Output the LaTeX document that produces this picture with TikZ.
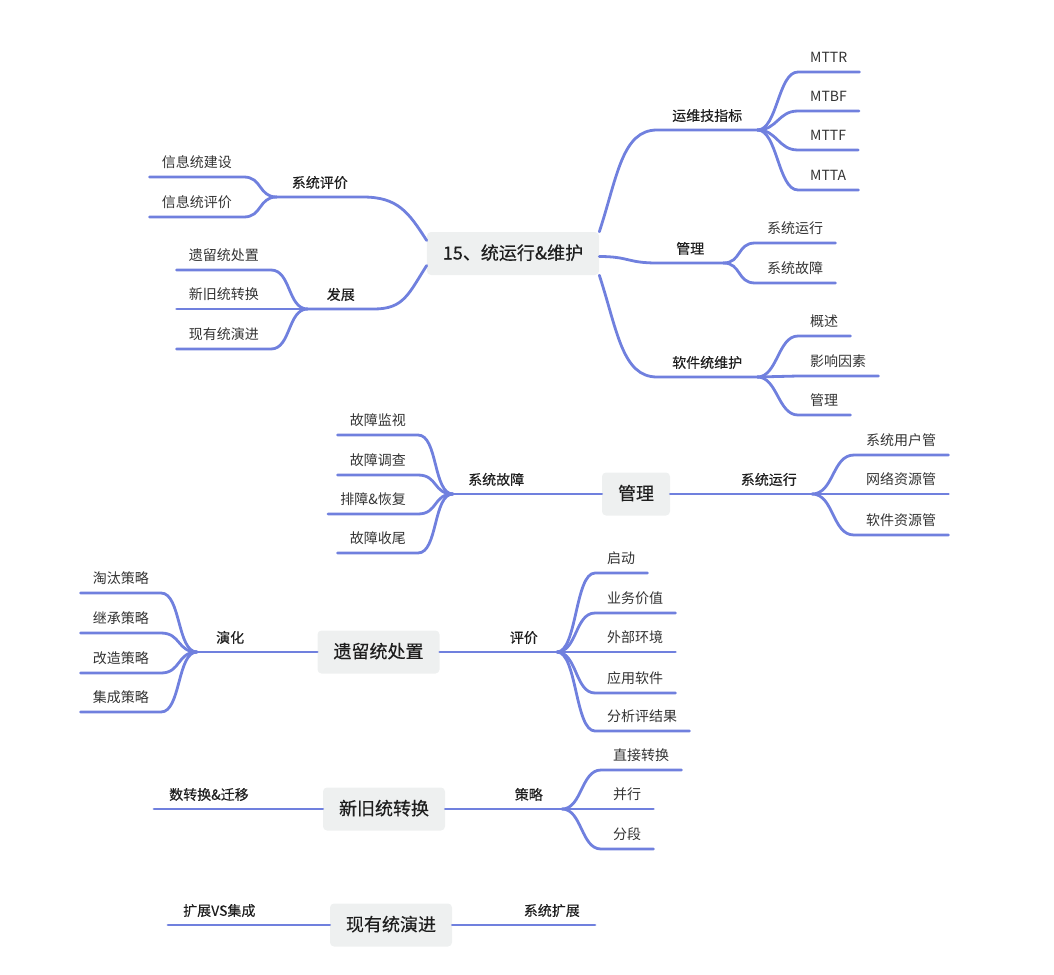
\documentclass[tikz,border=0pt]{standalone}
\usepackage{fontspec}
\setmainfont{Noto Sans CJK SC}
\newfontfamily\cjkmid[FakeBold=0.3]{Noto Sans CJK SC}
\usetikzlibrary{calc}
\usepackage{xcolor}
\definecolor{linkblue}{RGB}{112,128,222}
\definecolor{boxgrey}{RGB}{238,240,240}
\definecolor{inkdark}{RGB}{30,30,30}
\definecolor{inkgrey}{RGB}{51,51,51}

\tikzset{
  topic/.style={fill=boxgrey, rounded corners=4pt, inner xsep=16pt, inner ysep=0pt,
    minimum height=43pt, text height=13.5pt, text depth=1.5pt, text=inkdark,
    font=\cjkmid\fontsize{18}{20}\selectfont},
  branch/.style={inner xsep=15pt, inner ysep=8pt, minimum width=66pt,
    text height=11pt, text depth=1pt, text=inkdark,
    font=\cjkmid\fontsize{14}{16}\selectfont},
  leaf/.style={inner xsep=12pt, inner ysep=8pt, text height=11pt, text depth=1pt,
    text=inkgrey, font=\fontsize{14}{16}\selectfont},
  link/.style={draw=linkblue, line width=2.8pt, line cap=round},
}

\begin{document}
\begin{tikzpicture}[x=1pt, y=-1pt]
    \useasboundingbox (0,0) rectangle (1054,974);

    % Map 1: core topic and its branches
    \node[topic] (core) at (513,253.5) {15、统运行\&维护};
    \node[branch, anchor=south west] (ywzb) at (657,130) {运维技指标};
    \node[branch, anchor=south west] (glA) at (657,263) {管理};
    \node[branch, anchor=south west] (rjwh) at (657,377) {软件统维护};
    \node[branch, anchor=south east] (xtpj) at (363,197) {系统评价};
    \node[branch, anchor=south east] (fz) at (374,309) {发展};

    \draw[link] (core.north east) .. controls +(18,-55) and +(-35,0) .. (ywzb.south west) -- (ywzb.south east);
    \draw[link] ($(core.east)+(0,3)$) .. controls +(30,0) and +(-30,0) .. (glA.south west) -- (glA.south east);
    \draw[link] (core.south east) .. controls +(18,55) and +(-35,0) .. (rjwh.south west) -- (rjwh.south east);
    \draw[link] (xtpj.south west) -- (xtpj.south east) .. controls +(35,0) and +(-18,-28) .. ($(core.west)+(0,-13)$);
    \draw[link] (fz.south west) -- (fz.south east) .. controls +(30,0) and +(-18,28) .. ($(core.west)+(0,12)$);

    % leaves of map 1
    \foreach \i/\y/\t in {1/72/MTTR, 2/111/MTBF, 3/150/MTTF, 4/190/MTTA} {
        \node[leaf, anchor=south west] (yw\i) at (798,\y) {\t};
        \draw[link] (ywzb.south east) .. controls +(20,0) and +(-20,0) .. (yw\i.south west) -- (yw\i.south east);
    }
    \foreach \i/\y/\t in {1/243/系统运行, 2/283/系统故障} {
        \node[leaf, anchor=south west] (gla\i) at (755,\y) {\t};
        \draw[link] (glA.south east) .. controls +(18,0) and +(-18,0) .. (gla\i.south west) -- (gla\i.south east);
    }
    \foreach \i/\y/\t in {1/336/概述, 2/376/影响因素, 3/415/管理} {
        \node[leaf, anchor=south west] (rj\i) at (798,\y) {\t};
        \draw[link] (rjwh.south east) .. controls +(20,0) and +(-20,0) .. (rj\i.south west) -- (rj\i.south east);
    }
    \foreach \i/\y/\t in {1/177/信息统建设, 2/217/信息统评价} {
        \node[leaf, anchor=south east] (pj\i) at (244,\y) {\t};
        \draw[link] (xtpj.south west) .. controls +(-18,0) and +(18,0) .. (pj\i.south east) -- (pj\i.south west);
    }
    \foreach \i/\y/\t in {1/270/遗留统处置, 2/309/新旧统转换, 3/349/现有统演进} {
        \node[leaf, anchor=south east] (fz\i) at (271,\y) {\t};
        \draw[link] (fz.south west) .. controls +(-20,0) and +(20,0) .. (fz\i.south east) -- (fz\i.south west);
    }

    % Map 2: 管理
    \node[topic] (glB) at (636,494) {管理};
    \node[branch, anchor=south west] (xtgz) at (453,494) {系统故障};
    \node[branch, anchor=south east] (xtyx) at (812,494) {系统运行};
    \draw[link] (glB.west) -- (xtgz.south east) -- (xtgz.south west);
    \draw[link] (glB.east) -- (xtyx.south west) -- (xtyx.south east);
    \foreach \i/\y/\t in {1/435/故障监视, 2/475/故障调查, 3/514/排障\&恢复, 4/553/故障收尾} {
        \node[leaf, anchor=south east] (gz\i) at (418,\y) {\t};
        \draw[link] (xtgz.south west) .. controls +(-20,0) and +(20,0) .. (gz\i.south east) -- (gz\i.south west);
    }
    \foreach \i/\y/\t in {1/455/系统用户管, 2/494/网络资源管, 3/535/软件资源管} {
        \node[leaf, anchor=south west] (yx\i) at (854,\y) {\t};
        \draw[link] (xtyx.south east) .. controls +(22,0) and +(-22,0) .. (yx\i.south west) -- (yx\i.south east);
    }

    % Map 3: 遗留统处置
    \node[topic] (ylcz) at (378.5,652) {遗留统处置};
    \node[branch, anchor=south west] (yh) at (197,652) {演化};
    \node[branch, anchor=south east] (pj) at (557,652) {评价};
    \draw[link] (ylcz.west) -- (yh.south east) -- (yh.south west);
    \draw[link] (ylcz.east) -- (pj.south west) -- (pj.south east);
    \foreach \i/\y/\t in {1/593/淘汰策略, 2/633/继承策略, 3/673/改造策略, 4/712/集成策略} {
        \node[leaf, anchor=south east] (yh\i) at (161,\y) {\t};
        \draw[link] (yh.south west) .. controls +(-20,0) and +(20,0) .. (yh\i.south east) -- (yh\i.south west);
    }
    \foreach \i/\y/\t in {1/573/启动, 2/613/业务价值, 3/652/外部环境, 4/693/应用软件, 5/731/分析评结果} {
        \node[leaf, anchor=south west] (pjb\i) at (595,\y) {\t};
        \draw[link] (pj.south east) .. controls +(20,0) and +(-20,0) .. (pjb\i.south west) -- (pjb\i.south east);
    }

    % Map 4: 新旧统转换
    \node[topic] (xjzh) at (384,809) {新旧统转换};
    \node[branch, anchor=south west] (sjqy) at (154,809) {数转换\&迁移};
    \node[branch, anchor=south east] (cl) at (562,809) {策略};
    \draw[link] (xjzh.west) -- (sjqy.south east) -- (sjqy.south west);
    \draw[link] (xjzh.east) -- (cl.south west) -- (cl.south east);
    \foreach \i/\y/\t in {1/770/直接转换, 2/809/并行, 3/849/分段} {
        \node[leaf, anchor=south west] (cl\i) at (601,\y) {\t};
        \draw[link] (cl.south east) .. controls +(20,0) and +(-20,0) .. (cl\i.south west) -- (cl\i.south east);
    }

    % Map 5: 现有统演进
    \node[topic] (xyyj) at (391,925) {现有统演进};
    \node[branch, anchor=south west] (kzjc) at (168,925) {扩展VS集成};
    \node[branch, anchor=south east] (xtkz) at (595,925) {系统扩展};
    \draw[link] (xyyj.west) -- (kzjc.south east) -- (kzjc.south west);
    \draw[link] (xyyj.east) -- (xtkz.south west) -- (xtkz.south east);

\end{tikzpicture}
\end{document}
